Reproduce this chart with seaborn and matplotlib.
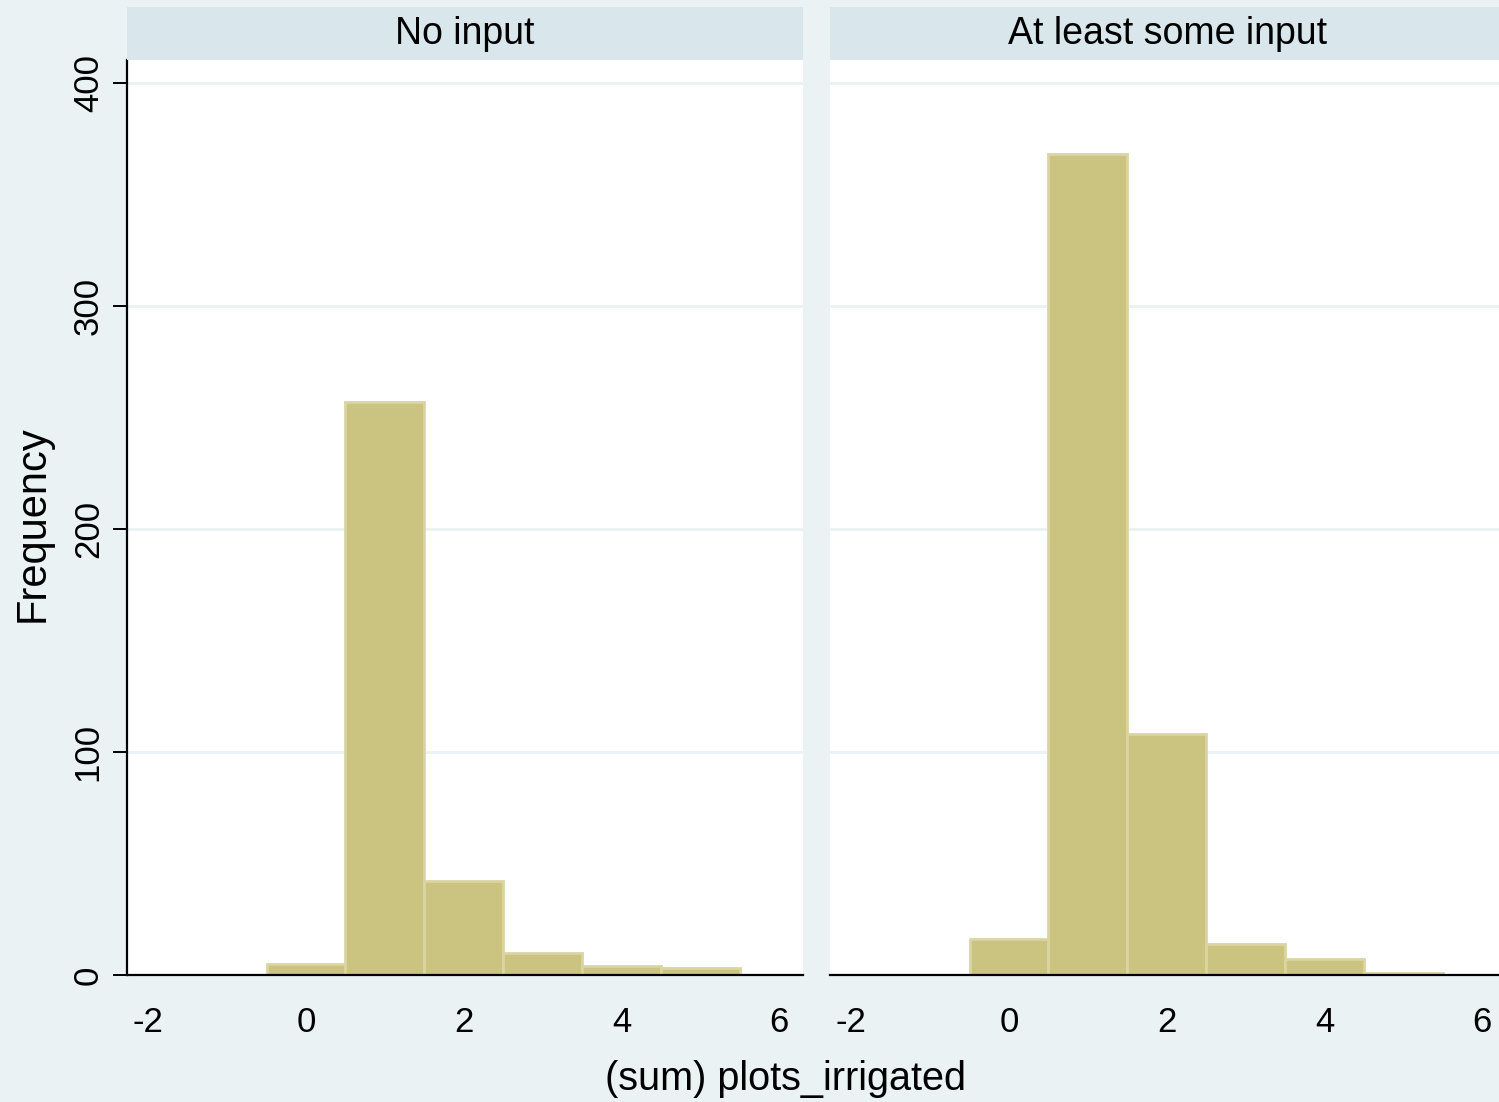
import numpy as np
import pandas as pd
import seaborn as sns
import matplotlib
matplotlib.use("Agg")
import matplotlib.pyplot as plt

# Number of irrigated plots per household (bin centres) and counts per group
plots_irrigated = [0, 1, 2, 3, 4, 5]
no_input_counts = [5, 257, 42, 10, 4, 3]
some_input_counts = [16, 368, 108, 14, 7, 1]
panel_titles = ["No input", "At least some input"]
x_ticks = [-2, 0, 2, 4, 6]
y_ticks = [0, 100, 200, 300, 400]

sns.set_style("white")
plt.rcParams["font.family"] = ["Liberation Sans", "DejaVu Sans"]
plt.rcParams["text.color"] = "black"
plt.rcParams["xtick.color"] = "black"
plt.rcParams["ytick.color"] = "black"
plt.rcParams["xtick.labelcolor"] = "black"
plt.rcParams["ytick.labelcolor"] = "black"

BG = "#EAF2F3"
STRIP = "#D9E6EB"
GRID = "#EAF2F3"
BAR = "#CBC480"
BAR_EDGE = "#DAD5A2"

df = pd.concat([
    pd.DataFrame({"plots": plots_irrigated, "count": no_input_counts, "group": panel_titles[0]}),
    pd.DataFrame({"plots": plots_irrigated, "count": some_input_counts, "group": panel_titles[1]}),
])

W, H = 1499, 1102
fig = plt.figure(figsize=(W / 100, H / 100), dpi=100, facecolor=BG)

ax_left_px = [127, 830]
ax_w_px = 676
ax_top_px, ax_bot_px = 60, 975
strip_top_px = 7

for i, (title, x0) in enumerate(zip(panel_titles, ax_left_px)):
    ax = fig.add_axes([x0 / W, (H - ax_bot_px) / H, ax_w_px / W, (ax_bot_px - ax_top_px) / H])
    ax.set_facecolor("white")
    sub = df[df["group"] == title]
    sns.histplot(data=sub, x="plots", weights="count", discrete=True, ax=ax,
                 color=BAR, edgecolor=BAR_EDGE, linewidth=2.0, alpha=1.0)
    ax.set_xlim(-2.27, 6.30)
    ax.set_ylim(0, 410.3)
    ax.set_xticks(x_ticks)
    ax.set_yticks(y_ticks)
    ax.set_xticklabels([str(t) for t in x_ticks])
    for y in y_ticks[1:]:
        ax.axhline(y, color=GRID, lw=2.0, zorder=0)
    ax.set_xlabel("")
    ax.set_ylabel("")
    for s in ["top", "right"]:
        ax.spines[s].set_visible(False)
    ax.spines["bottom"].set_color("black")
    ax.spines["bottom"].set_linewidth(1.6)
    ax.tick_params(axis="x", length=10, width=1.4, color="black", labelsize=25, pad=12, direction="out")
    if i == 0:
        ax.spines["left"].set_color("black")
        ax.spines["left"].set_linewidth(1.6)
        ax.tick_params(axis="y", length=10, width=1.4, color="black", labelsize=25, pad=6,
                       direction="out", left=True)
        for lab in ax.get_yticklabels():
            lab.set_rotation(90)
            lab.set_va("center")
    else:
        ax.spines["left"].set_visible(False)
        ax.tick_params(axis="y", left=False, labelleft=False)
    # panel header strip
    sax = fig.add_axes([x0 / W, (H - ax_top_px) / H, ax_w_px / W, (ax_top_px - strip_top_px) / H])
    sax.set_facecolor(STRIP)
    sax.set_xticks([])
    sax.set_yticks([])
    for s in sax.spines.values():
        s.set_visible(False)
    sax.text(0.5, (ax_top_px - 44) / (ax_top_px - strip_top_px), title, ha="center",
             va="baseline", fontsize=27, transform=sax.transAxes)

fig.text(33 / W, 1 - 524 / H, "Frequency", rotation=90, ha="center", va="center", fontsize=30)
fig.text(786 / W, 1 - 1090 / H, "(sum) plots_irrigated", ha="center", va="baseline", fontsize=28.5)

fig.savefig("out.png", dpi=100, facecolor=BG)
